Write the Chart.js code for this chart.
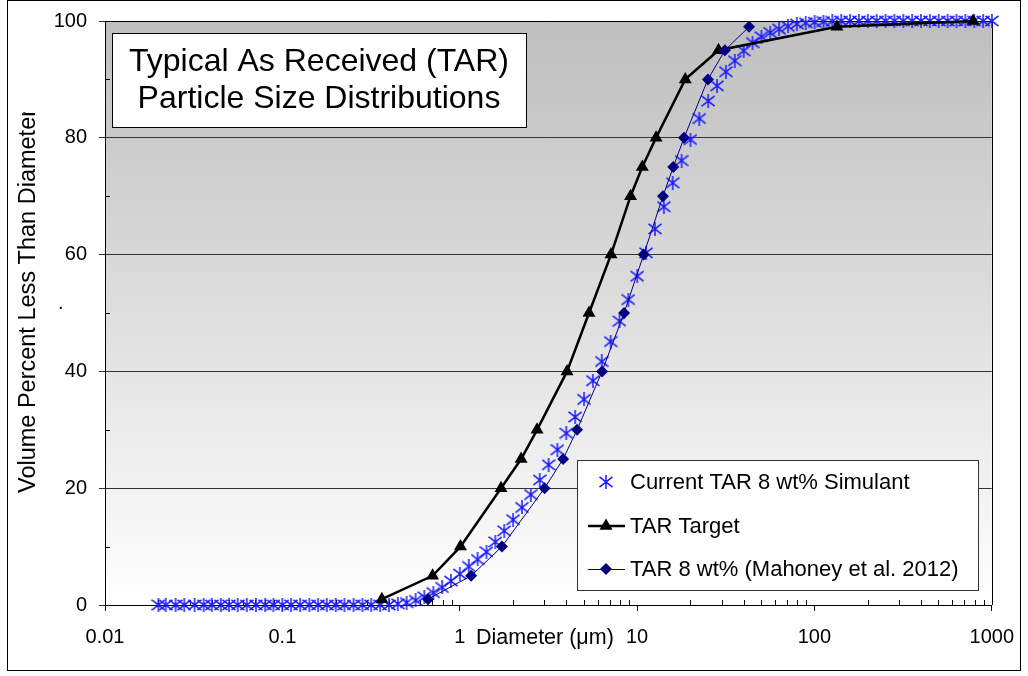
<!DOCTYPE html>
<html>
<head>
<meta charset="utf-8">
<title>Particle Size Distributions</title>
<script src="https://cdn.jsdelivr.net/npm/chart.js@4.4.0/dist/chart.umd.min.js"></script>
<style>
    html, body { margin: 0; padding: 0; background: #fff; }
    canvas { display: block; }
</style>
</head>
<body>
<canvas id="psdChart" width="1028" height="676"></canvas>
<script>
const FONT = "'Liberation Sans', Arial, sans-serif";

// Simulant size classes (um) and cumulative volume percent
const simSizes = [
    0.020, 0.022, 0.025, 0.028, 0.032, 0.036, 0.040, 0.045, 0.050, 0.056,
    0.063, 0.071, 0.080, 0.089, 0.100, 0.112, 0.126, 0.142, 0.159, 0.178,
    0.200, 0.224, 0.252, 0.283, 0.317, 0.356, 0.399, 0.448, 0.502, 0.564,
    0.632, 0.710, 0.796, 0.893, 1.002, 1.125, 1.262, 1.416, 1.589, 1.783,
    2.000, 2.244, 2.518, 2.825, 3.170, 3.557, 3.991, 4.477, 5.024, 5.637,
    6.325, 7.096, 7.962, 8.934, 10.024, 11.247, 12.619, 14.159, 15.887, 17.825,
    20.000, 22.440, 25.179, 28.251, 31.698, 35.566, 39.905, 44.774, 50.238, 56.368,
    63.246, 70.963, 79.621, 89.337, 100.237, 112.468, 126.191, 141.589, 158.866, 178.250,
    200.000, 224.404, 251.785, 282.508, 316.979, 355.656, 399.052, 447.744, 502.377, 563.677,
    632.456, 709.627, 796.214, 893.367, 1002.374
];
const simPercent = [
    0, 0, 0, 0, 0, 0, 0, 0, 0, 0,
    0, 0, 0, 0, 0, 0, 0, 0, 0, 0,
    0, 0, 0, 0, 0, 0, 0, 0.2, 0.4, 0.8,
    1.4, 2.1, 3.0, 4.1, 5.3, 6.6, 7.8, 9.1, 10.8, 12.7,
    14.6, 16.7, 18.9, 21.4, 24.0, 26.6, 29.4, 32.2, 35.2, 38.4,
    41.7, 45.1, 48.6, 52.3, 56.3, 60.3, 64.4, 68.2, 72.3, 76.1,
    79.7, 83.3, 86.3, 88.9, 91.3, 93.2, 94.9, 96.3, 97.3, 98.0,
    98.6, 99.1, 99.5, 99.7, 99.8, 99.9, 99.95, 100, 100, 100,
    100, 100, 100, 100, 100, 100, 100, 100, 100, 100,
    100, 100, 100, 100, 100
];

// TAR target curve
const targetSizes = [0.364, 0.703, 1.01, 1.71, 2.22, 2.73, 4.03, 5.36, 7.13, 9.19, 10.7, 12.8, 18.7, 28.8, 134, 785];
const targetPercent = [1, 5, 10, 20, 25, 30, 40, 50, 60, 70, 75, 80, 90, 95, 99, 100];

// Mahoney et al. 2012 measurement
const mahoneySizes = [0.663, 1.16, 1.73, 3.01, 3.83, 4.59, 6.35, 8.45, 10.9, 14.0, 16.0, 18.4, 25.1, 31.3, 42.8];
const mahoneyPercent = [1, 5, 10, 20, 25, 30, 40, 50, 60, 70, 75, 80, 90, 95, 99];

// Axis ticks
const xTickValues = [0.01, 0.1, 1, 10, 100, 1000];
const yTickValues = [0, 20, 40, 60, 80, 100];
const yMinorValues = [10, 30, 50, 70, 90];

const seriesLabels = ['Current TAR 8 wt% Simulant', 'TAR Target', 'TAR 8 wt% (Mahoney et al. 2012)'];
const chartTitle = ['Typical As Received (TAR)', 'Particle Size Distributions'];
const yTitle = 'Volume Percent Less Than Diameter';
const xTitle = 'Diameter (\u03bcm)';

const SIM_BLUE = '#1a1aff';
const NAVY = '#000080';

// Asterisk marker: X with a vertical bar
function makeStar(size, color) {
    const c = document.createElement('canvas');
    c.width = size;
    c.height = size;
    const g = c.getContext('2d');
    const m = size / 2;
    const r = size / 2 - 0.5;
    g.strokeStyle = color;
    g.lineWidth = 1.5;
    g.beginPath();
    g.moveTo(m, 0);
    g.lineTo(m, size);
    g.moveTo(m - r, m - r * 0.8);
    g.lineTo(m + r, m + r * 0.8);
    g.moveTo(m + r, m - r * 0.8);
    g.lineTo(m - r, m + r * 0.8);
    g.stroke();
    return c;
}
const starMarker = makeStar(14, SIM_BLUE);

function toPoints(xs, ys) {
    return xs.map((x, i) => ({ x: x, y: ys[i] }));
}

// Background, borders and minor ticks
const framePlugin = {
    id: 'frame',
    beforeDraw(chart) {
        const { ctx, chartArea: a } = chart;
        ctx.save();
        ctx.fillStyle = '#fff';
        ctx.fillRect(0, 0, chart.width, chart.height);
        const grad = ctx.createLinearGradient(0, a.top, 0, a.bottom);
        grad.addColorStop(0, '#bebebe');
        grad.addColorStop(1, '#ffffff');
        ctx.fillStyle = grad;
        ctx.fillRect(a.left, a.top, a.right - a.left, a.bottom - a.top);
        ctx.restore();
    },
    beforeDatasetsDraw(chart) {
        const { ctx, chartArea: a, scales } = chart;
        ctx.save();
        ctx.strokeStyle = '#000';
        ctx.lineWidth = 1;
        ctx.beginPath();
        ctx.moveTo(Math.round(a.right) + 0.5, a.top);
        ctx.lineTo(Math.round(a.right) + 0.5, a.bottom);
        ctx.moveTo(a.left, Math.round(a.top) + 0.5);
        ctx.lineTo(a.right, Math.round(a.top) + 0.5);
        // minor ticks on the log axis, 2..9 in each decade
        for (let d = 0.01; d < 1000; d *= 10) {
            for (let k = 2; k <= 9; k++) {
                const px = Math.round(scales.x.getPixelForValue(d * k)) + 0.5;
                ctx.moveTo(px, a.bottom);
                ctx.lineTo(px, a.bottom - 5);
            }
        }
        yMinorValues.forEach(v => {
            const py = Math.round(scales.y.getPixelForValue(v)) + 0.5;
            ctx.moveTo(a.left, py);
            ctx.lineTo(a.left + 5, py);
        });
        ctx.stroke();
        ctx.restore();
    },
    afterDraw(chart) {
        const { ctx } = chart;
        ctx.save();

        // Title box
        ctx.fillStyle = '#fff';
        ctx.fillRect(112, 33, 414, 94);
        ctx.strokeStyle = '#000';
        ctx.lineWidth = 1;
        ctx.strokeRect(112.5, 33.5, 414, 94);
        ctx.fillStyle = '#000';
        ctx.font = '32px ' + FONT;
        ctx.textAlign = 'center';
        ctx.textBaseline = 'middle';
        ctx.fillText(chartTitle[0], 319, 62);
        ctx.fillText(chartTitle[1], 319, 99);

        // Legend box
        ctx.fillStyle = '#fff';
        ctx.fillRect(577, 460, 401, 130);
        ctx.strokeStyle = '#333';
        ctx.strokeRect(577.5, 460.5, 401, 130);
        const rows = [482, 526, 569];
        ctx.drawImage(starMarker, 606 - 7, rows[0] - 7);
        ctx.strokeStyle = '#000';
        ctx.lineWidth = 2.5;
        ctx.beginPath();
        ctx.moveTo(588, rows[1]);
        ctx.lineTo(625, rows[1]);
        ctx.stroke();
        ctx.fillStyle = '#000';
        ctx.beginPath();
        ctx.moveTo(606, rows[1] - 7.5);
        ctx.lineTo(612.5, rows[1] + 3.75);
        ctx.lineTo(599.5, rows[1] + 3.75);
        ctx.closePath();
        ctx.fill();
        ctx.strokeStyle = NAVY;
        ctx.lineWidth = 1;
        ctx.beginPath();
        ctx.moveTo(588, rows[2] + 0.5);
        ctx.lineTo(625, rows[2] + 0.5);
        ctx.stroke();
        ctx.fillStyle = NAVY;
        ctx.beginPath();
        ctx.moveTo(606, rows[2] - 6);
        ctx.lineTo(612, rows[2]);
        ctx.lineTo(606, rows[2] + 6);
        ctx.lineTo(600, rows[2]);
        ctx.closePath();
        ctx.fill();
        ctx.fillStyle = '#000';
        ctx.font = '22px ' + FONT;
        ctx.textAlign = 'left';
        ctx.textBaseline = 'middle';
        seriesLabels.forEach((t, i) => ctx.fillText(t, 630, rows[i] + 1));

        // X axis title sits between the tick labels
        ctx.font = '21.5px ' + FONT;
        ctx.fillText(xTitle, 476, 638);

        // Y axis title, cut off at the top
        ctx.save();
        ctx.beginPath();
        ctx.rect(0, 112, 100, 560);
        ctx.clip();
        ctx.translate(29, 493);
        ctx.rotate(-Math.PI / 2);
        ctx.font = '23.5px ' + FONT;
        ctx.textAlign = 'left';
        ctx.fillText(yTitle, 0, 0);
        ctx.restore();
        ctx.font = '20px ' + FONT;
        ctx.fillText('.', 58, 303);

        // Outer frame
        ctx.strokeStyle = '#000';
        ctx.lineWidth = 1;
        ctx.strokeRect(7.5, 0.5, 1013, 670);
        ctx.restore();
    }
};

const ctx = document.getElementById('psdChart').getContext('2d');
const psdChart = new Chart(ctx, {
    type: 'line',
    data: {
        datasets: [{
            label: seriesLabels[0],
            data: toPoints(simSizes, simPercent),
            showLine: false,
            pointStyle: starMarker,
            pointRadius: 7,
            borderColor: SIM_BLUE,
            backgroundColor: SIM_BLUE,
            clip: false,
            order: 3
        }, {
            label: seriesLabels[1],
            data: toPoints(targetSizes, targetPercent),
            borderColor: '#000',
            borderWidth: 2.5,
            pointStyle: 'triangle',
            pointRadius: 7.5,
            pointBorderWidth: 0,
            pointBackgroundColor: '#000',
            clip: false,
            order: 2
        }, {
            label: seriesLabels[2],
            data: toPoints(mahoneySizes, mahoneyPercent),
            borderColor: NAVY,
            borderWidth: 1,
            pointStyle: 'rectRot',
            pointRadius: 6,
            pointBorderWidth: 0,
            pointBackgroundColor: NAVY,
            clip: false,
            order: 1
        }]
    },
    options: {
        responsive: false,
        animation: false,
        devicePixelRatio: 1,
        layout: { padding: { top: 21, right: 36, bottom: 0, left: 0 } },
        plugins: {
            legend: { display: false },
            tooltip: { enabled: false }
        },
        scales: {
            x: {
                type: 'logarithmic',
                min: 0.01,
                max: 1000,
                afterBuildTicks: scale => { scale.ticks = xTickValues.map(v => ({ value: v })); },
                afterFit: scale => { scale.height = 71; },
                ticks: {
                    color: '#000',
                    font: { family: FONT, size: 20 },
                    padding: 14,
                    maxRotation: 0,
                    autoSkip: false,
                    callback: v => String(v)
                },
                grid: { drawOnChartArea: false, color: '#000', tickLength: 6 },
                border: { color: '#000', width: 1 }
            },
            y: {
                min: 0,
                max: 100,
                afterBuildTicks: scale => { scale.ticks = yTickValues.map(v => ({ value: v })); },
                afterFit: scale => { scale.width = 105; },
                ticks: {
                    color: '#000',
                    font: { family: FONT, size: 20, lineHeight: 0.9 },
                    padding: 12
                },
                grid: { color: '#333', lineWidth: 1, tickLength: 6 },
                border: { color: '#000', width: 1 }
            }
        }
    },
    plugins: [framePlugin]
});
</script>
</body>
</html>
